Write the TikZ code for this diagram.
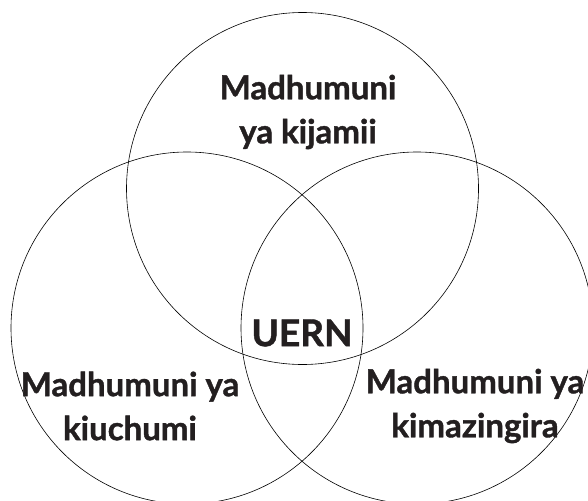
\documentclass[tikz,border=0pt]{standalone}
\usepackage{fontspec}
\setmainfont{Lato}[BoldFeatures={FakeBold=1.2}]
\definecolor{ink}{HTML}{231F20}
\begin{document}
\begin{tikzpicture}[x=1pt,y=-1pt,
  ring/.style={draw=black,line width=0.6pt},
  lbl/.style={font=\bfseries\fontsize{33}{44}\selectfont,align=center,inner sep=0pt,text=ink}]
\useasboundingbox (0,0) rectangle (588,500);
\begin{scope}
\clip (0,0) rectangle (588,500);
\draw[ring] (302.5,188.5) circle[radius=176];
\draw[ring] (187,328) circle[radius=176];
\draw[ring] (417,328) circle[radius=176];
\end{scope}
\node[lbl] (top) at (308,112) {Madhumuni\\ya kijamii};
\node[lbl] (left) at (130,406) {Madhumuni ya\\kiuchumi};
\node[lbl] (right) at (475,406) {Madhumuni ya\\kimazingira};
\node[lbl, font=\bfseries\fontsize{37}{44}\selectfont] (mid) at (302,333) {UERN};
\end{tikzpicture}
\end{document}
